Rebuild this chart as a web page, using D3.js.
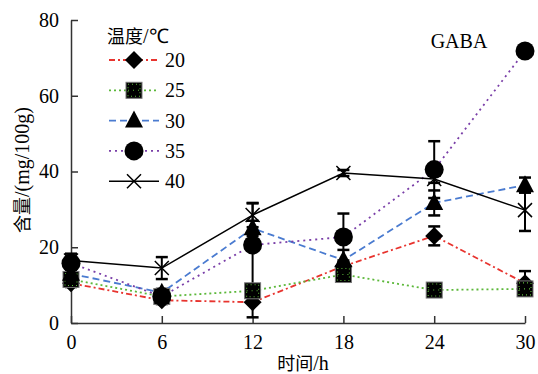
<!DOCTYPE html>
<html>
<head>
<meta charset="utf-8">
<script src="https://cdn.jsdelivr.net/npm/d3@7"></script>
<style>
  body { margin: 0; background: #fff; }
</style>
</head>
<body>
<svg id="visualization" width="538" height="374"></svg>
<script>
const times = [0, 6, 12, 18, 24, 30];
const temps = ["20", "25", "30", "35", "40"];
const gaba20 = [10.5, 6, 5.5, 15, 23, 10.5];
const err20 = [1, 1, 4, 1, 2.5, 3.2];
const gaba25 = [11.5, 7, 8.5, 12.8, 8.7, 9];
const err25 = [1, 1, 1, 1, 1, 1];
const gaba30 = [13, 8, 25, 16.6, 31.7, 36.4];
const err30 = [1, 1, 2, 2.7, 3.3, 2];
const gaba35 = [15.8, 7, 20.6, 22.7, 40.5, 71.8];
const err35 = [1.5, 1, 11, 6.2, 7.5, 1];
const gaba40 = [16.5, 14.5, 28.5, 39.6, 38, 29.8];
const err40 = [1.8, 2.9, 3.2, 0.8, 1, 5.5];
const yTicks = [0, 20, 40, 60, 80];

const serif = "'Liberation Serif', 'Times New Roman', serif";
const cjk = "'Noto Sans CJK SC', sans-serif";

const seriesStyle = [
    { colour: "#e8342f", dash: "6,3,2,3", symbol: "diamond" },
    { colour: "#5cb83a", dash: "2,3", symbol: "square" },
    { colour: "#4a7bd0", dash: "7,4", symbol: "triangle" },
    { colour: "#7a3fa8", dash: "2,4", symbol: "circle" },
    { colour: "#000", dash: "none", symbol: "cross" }
];

const values = [gaba20, gaba25, gaba30, gaba35, gaba40];
const errors = [err20, err25, err30, err35, err40];
const series = temps.map((t, i) => ({
    name: t,
    style: seriesStyle[i],
    points: times.map((x, j) => ({ x: x, y: values[i][j], e: errors[i][j] }))
}));

const svg = d3.select("#visualization");
const margin = { left: 71, right: 13, top: 20, bottom: 51 };
const width = 538 - margin.left - margin.right;
const height = 374 - margin.top - margin.bottom;

const chart = svg.append("g").attr("transform", `translate(${margin.left},${margin.top})`);

const xScale = d3.scaleLinear().domain([0, 30]).range([0, width]);
const yScale = d3.scaleLinear().domain([0, 80]).range([height, 0]);

// axes
const axisColour = "#333";
const xAxis = chart.append("g")
    .attr("transform", `translate(0,${height})`)
    .call(d3.axisBottom(xScale).tickValues(times).tickSizeInner(-7).tickSizeOuter(0).tickPadding(12));
const yAxis = chart.append("g")
    .call(d3.axisLeft(yScale).tickValues(yTicks).tickSizeInner(-7).tickSizeOuter(0).tickPadding(12));

[xAxis, yAxis].forEach(a => {
    a.select(".domain").attr("stroke", axisColour).attr("stroke-width", 1.5);
    a.selectAll(".tick line").attr("stroke", axisColour).attr("stroke-width", 1.5);
    a.selectAll(".tick text")
        .style("font-family", serif)
        .style("font-size", "20px")
        .attr("fill", "#000");
});
xAxis.selectAll(".tick text").attr("dy", "0.71em");

// mixed CJK + latin label helper
const mixedText = (sel, cjkPart, latinPart) => {
    sel.append("tspan").style("font-family", cjk).style("font-size", "18px").text(cjkPart);
    sel.append("tspan").style("font-family", serif).style("font-size", "20px").text(latinPart);
    return sel;
};

// axis titles
mixedText(svg.append("text")
    .attr("transform", `translate(${margin.left + width / 2 + 5},${370})`)
    .attr("text-anchor", "middle"), "时间", "/h");

mixedText(svg.append("text")
    .attr("transform", `translate(29,${170})rotate(-90)`)
    .attr("text-anchor", "middle"), "含量", "/(mg/100g)");

svg.append("text")
    .attr("x", 459)
    .attr("y", 48)
    .attr("text-anchor", "middle")
    .style("font-family", serif)
    .style("font-size", "20px")
    .text("GABA");

// symbol drawing
const drawSymbol = (g, style, x, y) => {
    if (style.symbol === "diamond") {
        g.append("path")
            .attr("d", `M${x},${y - 9}L${x + 9},${y}L${x},${y + 9}L${x - 9},${y}Z`)
            .attr("fill", "#000");
    } else if (style.symbol === "square") {
        g.append("rect")
            .attr("x", x - 8).attr("y", y - 8).attr("width", 16).attr("height", 16)
            .attr("fill", "#000").attr("stroke", "#777").attr("stroke-width", 1);
        g.append("rect")
            .attr("x", x - 6).attr("y", y - 6).attr("width", 12).attr("height", 12)
            .attr("fill", "none").attr("stroke", style.colour).attr("stroke-width", 1.1)
            .attr("stroke-dasharray", "1,3");
        g.append("line")
            .attr("x1", x - 6).attr("x2", x + 6).attr("y1", y).attr("y2", y)
            .attr("stroke", style.colour).attr("stroke-width", 1.1)
            .attr("stroke-dasharray", "1,4");
    } else if (style.symbol === "triangle") {
        g.append("path")
            .attr("d", `M${x},${y - 10}L${x + 9},${y + 7}L${x - 9},${y + 7}Z`)
            .attr("fill", "#000");
    } else if (style.symbol === "circle") {
        g.append("circle").attr("cx", x).attr("cy", y).attr("r", 9.5).attr("fill", "#000");
    } else {
        g.append("path")
            .attr("d", `M${x - 7},${y - 7}L${x + 7},${y + 7}M${x - 7},${y + 7}L${x + 7},${y - 7}`)
            .attr("stroke", "#000").attr("stroke-width", 1.5).attr("fill", "none");
    }
};

// lines
const line = d3.line().x(d => xScale(d.x)).y(d => yScale(d.y));
chart.selectAll(".series-line")
    .data(series)
    .join("path")
    .attr("class", "series-line")
    .attr("d", d => line(d.points))
    .attr("fill", "none")
    .attr("stroke", d => d.style.colour)
    .attr("stroke-width", d => d.style.symbol === "cross" ? 1.5 : 1.8)
    .attr("stroke-dasharray", d => d.style.dash);

// error bars
series.forEach(s => {
    s.points.forEach(p => {
        const cx = xScale(p.x);
        const top = yScale(p.y + p.e);
        const bottom = yScale(p.y - p.e);
        const g = chart.append("g").attr("class", "error-bar");
        g.append("line").attr("x1", cx).attr("x2", cx).attr("y1", top).attr("y2", bottom)
            .attr("stroke", "#000").attr("stroke-width", 2);
        [top, bottom].forEach(yy => {
            g.append("line").attr("x1", cx - 6).attr("x2", cx + 6).attr("y1", yy).attr("y2", yy)
                .attr("stroke", "#000").attr("stroke-width", 2.5);
        });
    });
});

// markers
series.forEach(s => {
    const g = chart.append("g").attr("class", "markers");
    s.points.forEach(p => drawSymbol(g, s.style, xScale(p.x), yScale(p.y)));
});

// legend
const legend = svg.append("g").attr("class", "legend");
mixedText(legend.append("text").attr("x", 107).attr("y", 43), "温度", "/℃");

series.forEach((s, i) => {
    const ly = 60 + i * 30.3;
    const g = legend.append("g");
    g.append("line")
        .attr("x1", 109).attr("x2", 159).attr("y1", ly).attr("y2", ly)
        .attr("stroke", s.style.colour)
        .attr("stroke-width", s.style.symbol === "cross" ? 1.5 : 1.8)
        .attr("stroke-dasharray", s.style.dash);
    drawSymbol(g, s.style, 134, ly);
    g.append("text")
        .attr("x", 165)
        .attr("y", ly)
        .attr("dy", "0.35em")
        .style("font-family", serif)
        .style("font-size", "20px")
        .text(s.name);
});
</script>
</body>
</html>
